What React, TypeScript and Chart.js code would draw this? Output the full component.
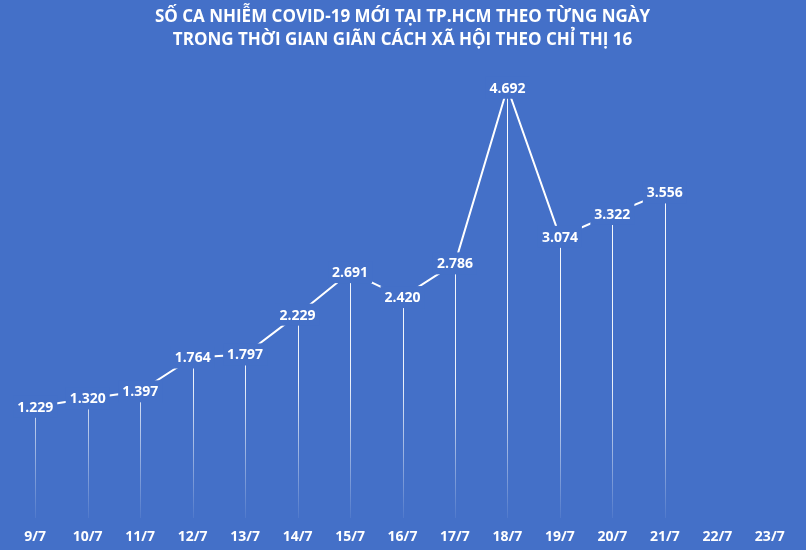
import React, { useEffect, useRef } from "react";
import { Chart, registerables } from "chart.js";

Chart.register(...registerables);

const categories = ["9/7", "10/7", "11/7", "12/7", "13/7", "14/7", "15/7", "16/7", "17/7", "18/7", "19/7", "20/7", "21/7", "22/7", "23/7"];
const cases: (number | null)[] = [1229, 1320, 1397, 1764, 1797, 2229, 2691, 2420, 2786, 4692, 3074, 3322, 3556, null, null];
const titleLines = [
  "SỐ CA NHIỄM COVID-19 MỚI TẠI TP.HCM THEO TỪNG NGÀY",
  "TRONG THỜI GIAN GIÃN CÁCH XÃ HỘI THEO CHỈ THỊ 16",
];

const BG = "#4470C8";
const FONT = "'Open Sans', 'Noto Sans', sans-serif";

const fmt = (v: number) => String(v).replace(/\B(?=(\d{3})+(?!\d))/g, ".");

const bgPlugin = {
  id: "bgFill",
  beforeDraw(chart: any) {
    const { ctx, width, height } = chart;
    ctx.save();
    ctx.fillStyle = BG;
    ctx.fillRect(0, 0, width, height);
    ctx.restore();
  },
};

const dropAndLabels = {
  id: "dropAndLabels",
  beforeDatasetsDraw(chart: any) {
    const { ctx, chartArea } = chart;
    const meta = chart.getDatasetMeta(0);
    const grad = ctx.createLinearGradient(0, chartArea.top, 0, chartArea.bottom);
    grad.addColorStop(0, "rgba(255,255,255,1)");
    grad.addColorStop(0.7, "rgba(255,255,255,0.9)");
    grad.addColorStop(1, "rgba(255,255,255,0.05)");
    ctx.save();
    ctx.strokeStyle = grad;
    ctx.lineWidth = 1;
    meta.data.forEach((pt: any, i: number) => {
      if (cases[i] == null) return;
      const x = Math.round(pt.x) + 0.5;
      ctx.beginPath();
      ctx.moveTo(x, pt.y);
      ctx.lineTo(x, chartArea.bottom - 2);
      ctx.stroke();
    });
    ctx.restore();
  },
  afterDatasetsDraw(chart: any) {
    const { ctx } = chart;
    const meta = chart.getDatasetMeta(0);
    ctx.save();
    ctx.font = `bold 14px ${FONT}`;
    ctx.textAlign = "center";
    ctx.textBaseline = "middle";
    meta.data.forEach((pt: any, i: number) => {
      const v = cases[i];
      if (v == null) return;
      const txt = fmt(v);
      const w = ctx.measureText(txt).width;
      ctx.fillStyle = BG;
      ctx.fillRect(pt.x - w / 2 - 4, pt.y - 11, w + 8, 22);
      ctx.fillStyle = "#ffffff";
      ctx.fillText(txt, pt.x, pt.y + 1);
    });
    ctx.restore();
  },
};

export default function App() {
  const ref = useRef<HTMLCanvasElement>(null);
  useEffect(() => {
    document.body.style.margin = "0";
    const chart = new Chart(ref.current!, {
      type: "line",
      data: {
        labels: categories,
        datasets: [
          {
            data: cases,
            borderColor: "#ffffff",
            borderWidth: 2,
            pointRadius: 0,
            tension: 0,
            spanGaps: false,
          },
        ],
      },
      options: {
        animation: false,
        responsive: false,
        layout: { padding: { left: 9, right: 10, top: 4, bottom: 0 } },
        plugins: {
          legend: { display: false },
          tooltip: { enabled: false },
          title: {
            display: true,
            text: titleLines,
            color: "#ffffff",
            font: { family: FONT, size: 17, weight: "bold", lineHeight: 1.35 },
            padding: { top: 1.5, bottom: 8 },
          },
        },
        scales: {
          x: {
            offset: true,
            grid: { display: false },
            border: { display: false },
            afterFit: (scale: any) => {
              scale.height = 30;
            },
            ticks: {
              color: "#ffffff",
              padding: 1,
              font: { family: FONT, size: 14, weight: "bold" },
              maxRotation: 0,
              autoSkip: false,
            },
          },
          y: {
            display: false,
            min: 0,
            max: 5000,
          },
        },
      },
      plugins: [bgPlugin, dropAndLabels],
    });
    return () => chart.destroy();
  }, []);
  return (
    <div style={{ width: 806, height: 550 }}>
      <canvas ref={ref} width={806} height={550} style={{ display: "block" }} />
    </div>
  );
}
